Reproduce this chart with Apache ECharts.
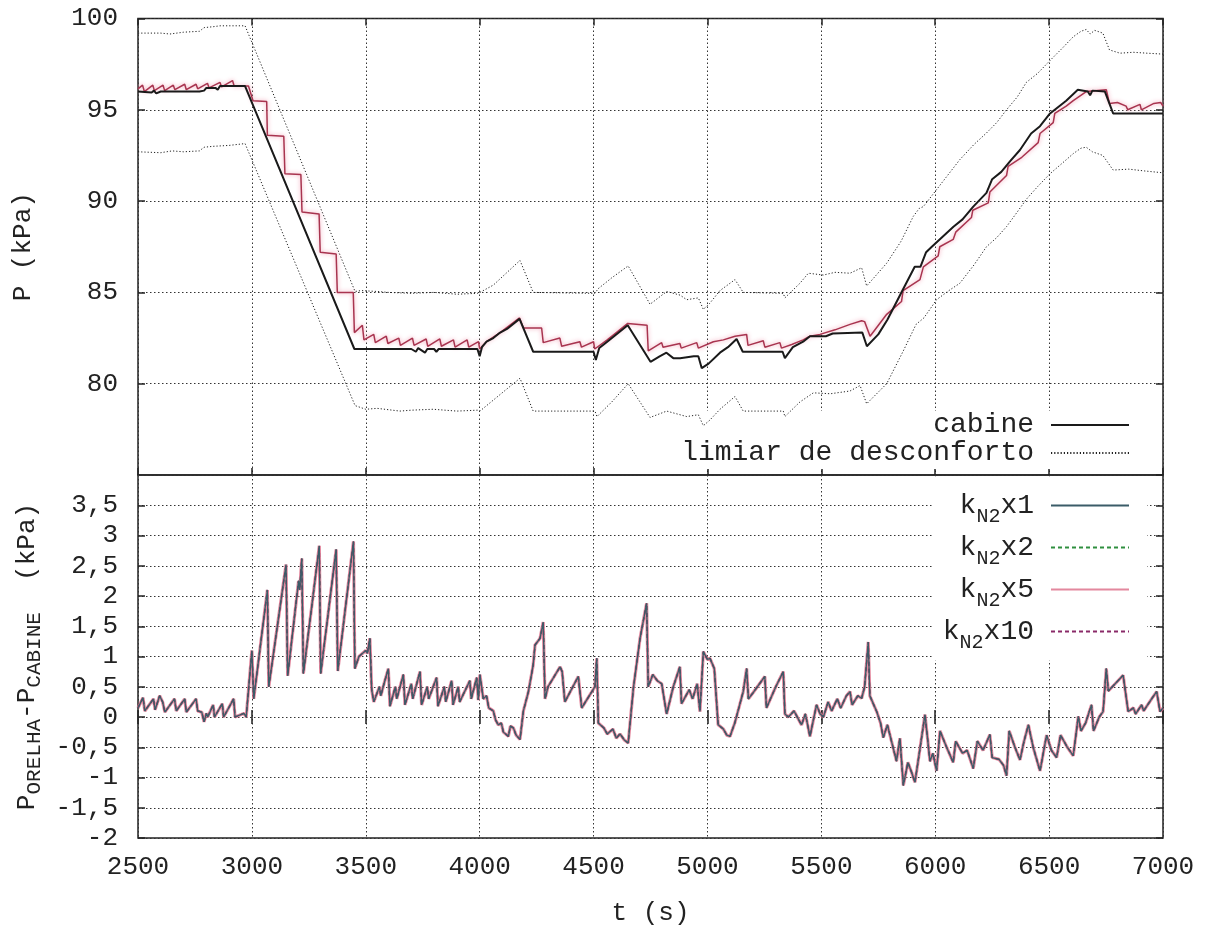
<!DOCTYPE html>
<html>
<head>
<meta charset="utf-8">
<script src="https://cdn.jsdelivr.net/npm/echarts@6/dist/echarts.min.js"></script>
<style>
  html, body { margin: 0; padding: 0; background: #fff; }
  #chart { width: 1208px; height: 927px; }
</style>
</head>
<body>
<div id="chart"></div>
<script>
// eixo de tempo (s)
var tMin = 2500, tMax = 7000, tStep = 500;

// painel superior: pressao (kPa)
var cabine = [
  [2500,96.0],[2560,95.95],[2570,96.05],[2580,95.9],[2600,96.0],[2770,96.0],[2790,96.05],[2800,96.2],
  [2840,96.2],[2850,96.1],[2860,96.3],[2970,96.3],
  [3450,81.9],[3700,81.9],[3720,81.75],[3730,81.95],[3760,81.7],[3770,81.9],[3800,81.9],[3810,81.75],
  [3820,81.9],[3990,81.9],[4000,81.5],[4010,82.0],[4030,82.3],[4060,82.5],[4090,82.8],[4120,83.0],
  [4175,83.55],[4235,81.75],[4500,81.75],[4510,81.3],[4525,81.95],[4560,82.3],[4590,82.6],[4650,83.2],
  [4750,81.2],[4790,81.5],[4820,81.7],[4850,81.4],[4880,81.4],[4940,81.5],[4960,81.5],[4975,80.85],
  [5005,81.1],[5055,81.7],[5090,82.0],[5128,82.45],[5155,81.75],[5330,81.75],[5340,81.4],[5375,82.0],
  [5420,82.3],[5450,82.6],[5520,82.6],[5550,82.75],[5680,82.8],[5700,82.05],[5750,82.7],[5790,83.5],
  [5860,85.2],[5910,86.4],[5935,86.4],[5960,87.2],[5985,87.5],[6080,88.6],[6120,89.0],[6167,89.7],
  [6225,90.45],[6250,91.2],[6290,91.6],[6330,92.2],[6372,92.8],[6421,93.7],[6460,94.1],[6504,94.8],
  [6575,95.5],[6626,96.1],[6670,96.0],[6680,95.8],[6690,96.05],[6745,96.0],[6781,94.8],[7000,94.8]
];

var orelha = [
  [2500,96.15],[2520,96.35],[2528,96.0],[2565,96.35],[2572,96.05],[2610,96.35],[2617,96.05],[2655,96.35],
  [2662,96.1],[2705,96.4],[2712,96.1],[2755,96.4],[2762,96.15],[2805,96.45],[2812,96.2],[2860,96.5],
  [2867,96.25],[2915,96.6],[2922,96.3],[2985,96.3],[3005,95.5],[3065,95.45],[3068,93.6],[3140,93.55],
  [3145,91.5],[3215,91.45],[3220,89.4],[3295,89.3],[3300,87.2],[3370,87.1],[3375,85.0],[3445,85.0],
  [3450,82.8],[3485,83.2],[3492,82.4],[3535,82.7],[3542,82.25],[3590,82.6],[3597,82.2],[3645,82.5],
  [3652,82.1],[3705,82.5],[3712,82.1],[3765,82.45],[3772,82.05],[3825,82.45],[3832,82.05],[3885,82.4],
  [3892,82.0],[3945,82.4],[3952,82.0],[3995,82.3],[4000,81.9],[4030,82.3],[4090,82.8],[4175,83.6],
  [4192,83.05],[4272,83.05],[4279,82.25],[4352,82.5],[4360,82.05],[4440,82.3],[4447,82.0],[4500,82.3],
  [4505,81.9],[4560,82.4],[4600,82.8],[4650,83.3],[4735,83.2],[4740,81.8],[4799,82.25],[4805,82.0],
  [4879,82.2],[4885,81.95],[4953,82.25],[4960,81.95],[5026,82.3],[5070,82.4],[5121,82.6],[5172,82.7],
  [5178,82.1],[5245,82.35],[5252,82.0],[5318,82.25],[5325,81.95],[5370,82.15],[5420,82.4],[5450,82.6],
  [5494,82.7],[5560,82.95],[5626,83.25],[5677,83.45],[5690,83.4],[5714,82.6],[5787,83.8],[5852,84.5],
  [5859,85.1],[5933,85.7],[5948,86.4],[6013,87.0],[6020,87.5],[6079,87.9],[6090,88.3],[6159,89.1],
  [6165,89.5],[6233,89.9],[6240,90.5],[6313,91.4],[6320,91.9],[6380,92.4],[6452,93.2],[6460,93.7],
  [6518,94.3],[6525,94.8],[6575,95.2],[6606,95.5],[6663,96.0],[6751,96.1],[6765,95.35],[6800,95.4],
  [6838,95.2],[6845,95.0],[6899,95.3],[6905,95.0],[6960,95.35],[6990,95.4],[7000,95.2]
];

var limiarSup = [
  [2500,99.2],[2600,99.2],[2640,99.15],[2700,99.25],[2770,99.3],[2790,99.5],[2830,99.55],[2860,99.6],
  [2970,99.6],[3453,85.05],[3480,85.1],[3550,85.05],[3600,85.0],[3700,84.95],[3800,85.0],[3900,84.9],
  [3990,84.95],[4001,85.0],[4060,85.4],[4177,86.75],[4235,85.0],[4506,84.95],[4520,85.2],[4580,85.8],
  [4652,86.45],[4748,84.35],[4821,85.05],[4880,84.85],[4909,84.6],[4960,84.7],[4982,84.07],[5010,84.4],
  [5055,85.1],[5121,85.7],[5157,85.0],[5333,84.95],[5340,84.7],[5406,85.5],[5443,86.05],[5509,85.95],
  [5560,86.1],[5626,86.05],[5677,86.35],[5699,85.35],[5787,86.6],[5850,87.8],[5904,89.17],[5930,89.6],
  [5948,89.7],[6006,90.63],[6060,91.5],[6108,92.27],[6170,93.1],[6225,93.73],[6270,94.3],[6313,95.0],
  [6360,95.7],[6400,96.5],[6450,97.0],[6504,97.7],[6560,98.4],[6606,99.0],[6640,99.3],[6663,99.4],
  [6680,99.15],[6700,99.35],[6736,99.2],[6765,98.28],[6811,98.1],[6870,98.15],[6930,98.1],[7000,98.05]
];

var limiarInf = [
  [2500,92.7],[2600,92.65],[2650,92.75],[2700,92.7],[2770,92.75],[2790,92.95],[2830,93.0],[2900,93.05],
  [2970,93.15],[3453,78.8],[3500,78.6],[3550,78.65],[3650,78.5],[3700,78.55],[3796,78.6],[3900,78.5],
  [3990,78.55],[4001,78.5],[4050,79.0],[4177,80.3],[4235,78.5],[4506,78.5],[4515,78.2],[4580,79.0],
  [4652,80.0],[4748,78.15],[4821,78.5],[4909,78.2],[4960,78.3],[4982,77.7],[5010,78.0],[5055,78.6],
  [5121,79.3],[5157,78.5],[5333,78.5],[5340,78.2],[5406,79.0],[5465,79.5],[5540,79.45],[5626,79.6],
  [5670,79.9],[5699,78.9],[5787,80.0],[5860,81.8],[5916,83.25],[5950,83.6],[6006,84.6],[6060,85.1],
  [6108,85.5],[6170,86.5],[6225,87.5],[6270,88.0],[6313,88.6],[6360,89.4],[6400,90.1],[6450,90.8],
  [6504,91.5],[6560,92.1],[6606,92.6],[6640,92.9],[6663,92.95],[6690,92.7],[6736,92.5],[6781,91.7],
  [6850,91.75],[6920,91.65],[7000,91.55]
];

// painel inferior: P_orelha - P_cabine (kPa)
var difOrelha = [
  [2500,0.15],[2522,0.32],[2530,0.1],[2568,0.3],[2575,0.12],[2595,0.35],[2608,0.25],[2618,0.08],
  [2660,0.3],[2668,0.1],[2705,0.3],[2712,0.08],[2755,0.3],[2762,0.1],[2780,0.08],[2790,-0.08],
  [2800,0.06],[2806,0.0],[2830,0.2],[2836,0.0],[2870,0.22],[2876,0.0],[2920,0.3],[2926,0.0],
  [2965,0.06],[2975,0.0],[3000,1.1],[3008,0.3],[3068,2.1],[3074,0.5],[3150,2.52],[3157,0.68],
  [3205,2.25],[3210,2.1],[3219,2.62],[3226,0.72],[3296,2.83],[3302,0.72],[3370,2.77],[3377,0.76],
  [3446,2.9],[3452,0.8],[3470,1.0],[3500,1.1],[3507,1.05],[3518,1.3],[3526,0.45],[3535,0.25],
  [3560,0.5],[3566,0.35],[3580,0.55],[3599,0.8],[3606,0.18],[3630,0.5],[3636,0.3],[3665,0.7],
  [3672,0.2],[3700,0.55],[3706,0.3],[3738,0.75],[3745,0.2],[3770,0.5],[3776,0.3],[3811,0.65],
  [3817,0.18],[3845,0.5],[3851,0.25],[3877,0.6],[3883,0.2],[3906,0.5],[3912,0.25],[3957,0.6],
  [3963,0.3],[3987,0.65],[3994,0.28],[4001,0.7],[4016,0.3],[4030,0.35],[4040,0.15],[4060,0.1],
  [4070,-0.05],[4082,-0.13],[4095,-0.1],[4104,-0.25],[4126,-0.32],[4135,-0.15],[4148,-0.18],[4160,-0.3],
  [4177,-0.37],[4192,0.1],[4214,0.42],[4235,0.86],[4243,1.19],[4265,1.3],[4279,1.57],[4287,0.3],
  [4300,0.5],[4353,0.83],[4362,0.75],[4374,0.25],[4433,0.67],[4448,0.15],[4506,0.5],[4514,0.97],
  [4521,-0.1],[4545,-0.18],[4560,-0.28],[4585,-0.2],[4600,-0.35],[4616,-0.28],[4635,-0.38],[4652,-0.43],
  [4675,0.48],[4704,1.3],[4733,1.88],[4740,0.5],[4760,0.7],[4780,0.6],[4799,0.55],[4821,0.05],
  [4850,0.5],[4879,0.83],[4886,0.22],[4920,0.45],[4935,0.3],[4955,0.55],[4967,0.09],[4982,1.08],
  [5000,0.95],[5011,0.97],[5030,0.8],[5047,-0.13],[5070,-0.2],[5085,-0.3],[5099,-0.32],[5120,-0.1],
  [5157,0.42],[5172,0.8],[5180,0.3],[5200,0.4],[5252,0.67],[5259,0.15],[5300,0.5],[5333,0.75],
  [5340,0.05],[5355,0.0],[5380,0.1],[5413,-0.13],[5430,0.05],[5450,-0.32],[5479,0.2],[5495,0.05],
  [5509,0.0],[5530,0.25],[5545,0.1],[5570,0.3],[5585,0.15],[5610,0.35],[5626,0.42],[5635,0.2],
  [5660,0.35],[5677,0.31],[5690,0.5],[5706,1.24],[5713,0.35],[5743,0.09],[5760,-0.1],[5772,-0.34],
  [5790,-0.13],[5830,-0.73],[5845,-0.35],[5860,-1.13],[5880,-0.75],[5895,-0.9],[5911,-1.08],[5930,-0.6],
  [5955,0.04],[5977,-0.73],[5990,-0.6],[6006,-0.89],[6021,-0.23],[6050,-0.5],[6079,-0.75],[6090,-0.4],
  [6120,-0.6],[6140,-0.55],[6167,-0.85],[6185,-0.4],[6210,-0.55],[6240,-0.29],[6250,-0.67],[6280,-0.7],
  [6300,-0.8],[6313,-0.97],[6325,-0.23],[6350,-0.5],[6372,-0.71],[6390,-0.4],[6409,-0.13],[6430,-0.5],
  [6460,-0.89],[6489,-0.3],[6510,-0.55],[6533,-0.67],[6550,-0.3],[6580,-0.5],[6606,-0.64],[6628,0.01],
  [6640,-0.23],[6660,-0.1],[6686,0.2],[6695,-0.23],[6720,0.0],[6737,0.09],[6751,0.8],[6760,0.43],
  [6790,0.55],[6825,0.69],[6847,0.09],[6870,0.15],[6880,0.05],[6906,0.2],[6915,0.1],[6950,0.3],
  [6972,0.42],[6987,0.09],[7000,0.15]
];

var nomesK = ['kN2x1', 'kN2x2', 'kN2x5', 'kN2x10'];
var rotulosK = {
  'kN2x1': '{m|k}{s|N2}{m|x1}',
  'kN2x2': '{m|k}{s|N2}{m|x2}',
  'kN2x5': '{m|k}{s|N2}{m|x5}',
  'kN2x10': '{m|k}{s|N2}{m|x10}'
};

var fonte = 'Liberation Mono';
var corTexto = '#222';
var grade = { show: true, lineStyle: { color: '#333', width: 1, type: [1.5, 2.5] } };
var tique = { show: true, inside: true, length: 7, lineStyle: { color: '#222', width: 1.5 } };
var virgula = function (v) { return String(v).replace('.', ','); };

var chart = echarts.init(document.getElementById('chart'));
chart.setOption({
  backgroundColor: '#fff',
  animation: false,
  grid: [
    { left: 138, right: 45, top: 18.5, height: 456.5, show: true, borderColor: '#222', borderWidth: 1.5 },
    { left: 138, right: 45, top: 475, height: 366, show: true, borderColor: '#222', borderWidth: 1.5 }
  ],
  legend: [
    {
      data: ['cabine', 'limiar de desconforto'],
      orient: 'vertical', align: 'right', right: 61, top: 411, z: 1,
      padding: [0, 17, 2, 10], itemGap: 0, itemWidth: 78, itemHeight: 14,
      backgroundColor: '#fff', selectedMode: false,
      itemStyle: { opacity: 0 },
      textStyle: { fontFamily: fonte, fontSize: 28, color: corTexto, lineHeight: 28, padding: [0, 12, 0, 0] }
    },
    {
      data: nomesK,
      orient: 'vertical', align: 'right', right: 61, top: 476.5, z: 1,
      padding: [8, 17, 8, 10], itemGap: 0, itemWidth: 78, itemHeight: 14,
      backgroundColor: '#fff', selectedMode: false,
      itemStyle: { opacity: 0 },
      formatter: function (n) { return rotulosK[n]; },
      textStyle: {
        fontFamily: fonte, color: corTexto, lineHeight: 29, padding: [0, 12, 0, 0],
        rich: {
          m: { fontFamily: fonte, fontSize: 28, color: corTexto, lineHeight: 29 },
          s: { fontFamily: fonte, fontSize: 20, color: corTexto, lineHeight: 29, padding: [22, 0, 0, 0] }
        }
      }
    }
  ],
  xAxis: [
    { gridIndex: 0, type: 'value', min: tMin, max: tMax, interval: tStep, position: 'bottom',
      axisLine: { show: false }, axisTick: tique, axisLabel: { show: false }, splitLine: grade },
    { gridIndex: 0, type: 'value', min: tMin, max: tMax, interval: tStep, position: 'top',
      axisLine: { show: false }, axisTick: tique, axisLabel: { show: false }, splitLine: { show: false } },
    { gridIndex: 1, type: 'value', min: tMin, max: tMax, interval: tStep, position: 'bottom',
      axisLine: { show: false }, axisTick: tique, splitLine: grade,
      axisLabel: { fontFamily: fonte, fontSize: 26, color: corTexto, margin: 16,
        formatter: function (v) { return String(v); } },
      name: 't (s)', nameLocation: 'middle', nameGap: 62,
      nameTextStyle: { fontFamily: fonte, fontSize: 26, color: corTexto } },
    { gridIndex: 1, type: 'value', min: tMin, max: tMax, interval: tStep, position: 'top',
      axisLine: { show: false }, axisTick: tique, axisLabel: { show: false }, splitLine: { show: false } }
  ],
  yAxis: [
    { gridIndex: 0, type: 'value', min: 75, max: 100, interval: 5, position: 'left',
      axisLine: { show: false }, axisTick: tique, splitLine: grade,
      axisLabel: { fontFamily: fonte, fontSize: 26, color: corTexto, margin: 20, showMinLabel: false },
      name: 'P (kPa)', nameLocation: 'middle', nameGap: 102, nameRotate: 90,
      nameTextStyle: { fontFamily: fonte, fontSize: 26, color: corTexto } },
    { gridIndex: 0, type: 'value', min: 75, max: 100, interval: 5, position: 'right',
      axisLine: { show: false }, axisTick: tique, axisLabel: { show: false }, splitLine: { show: false } },
    { gridIndex: 1, type: 'value', min: -2, max: 4, interval: 0.5, position: 'left',
      axisLine: { show: false }, axisTick: tique, splitLine: grade,
      axisLabel: { fontFamily: fonte, fontSize: 26, color: corTexto, margin: 20, showMaxLabel: false, formatter: virgula },
      name: '{m|P}{s|ORELHA}{m|-P}{s|CABINE}{m|  (kPa)}', nameLocation: 'middle', nameGap: 96, nameRotate: 90,
      nameTextStyle: {
        fontFamily: fonte, color: corTexto,
        rich: {
          m: { fontFamily: fonte, fontSize: 26, color: corTexto, lineHeight: 30 },
          s: { fontFamily: fonte, fontSize: 21, color: corTexto, lineHeight: 30, padding: [15, 0, 0, 0] }
        }
      } },
    { gridIndex: 1, type: 'value', min: -2, max: 4, interval: 0.5, position: 'right',
      axisLine: { show: false }, axisTick: tique, axisLabel: { show: false }, splitLine: { show: false } }
  ],
  series: [
    { name: 'limiar de desconforto', type: 'line', xAxisIndex: 0, yAxisIndex: 0, data: limiarSup,
      symbol: 'none', z: 3, lineStyle: { color: '#222', width: 1, type: [1.2, 2] } },
    { name: 'limiar de desconforto', type: 'line', xAxisIndex: 0, yAxisIndex: 0, data: limiarInf,
      symbol: 'none', z: 3, lineStyle: { color: '#222', width: 1, type: [1.2, 2] } },
    { name: 'orelha', type: 'line', xAxisIndex: 0, yAxisIndex: 0, data: orelha,
      symbol: 'none', z: 4,
      lineStyle: { color: '#a8344f', width: 1.5, shadowColor: 'rgba(240,140,165,0.9)', shadowBlur: 4 } },
    { name: 'cabine', type: 'line', xAxisIndex: 0, yAxisIndex: 0, data: cabine,
      symbol: 'none', z: 5, lineStyle: { color: '#1a1a1a', width: 2 } },

    { name: 'kN2x1', type: 'line', xAxisIndex: 2, yAxisIndex: 2, data: difOrelha,
      symbol: 'none', z: 6, lineStyle: { color: '#3b5c68', width: 1.3 } },
    { name: 'kN2x2', type: 'line', xAxisIndex: 2, yAxisIndex: 2, data: difOrelha,
      symbol: 'none', z: 3, lineStyle: { color: '#2f8f3f', width: 1.2, type: [4, 3] } },
    { name: 'kN2x5', type: 'line', xAxisIndex: 2, yAxisIndex: 2, data: difOrelha,
      symbol: 'none', z: 2, lineStyle: { color: '#dc6a86', width: 3.2, opacity: 0.8 } },
    { name: 'kN2x10', type: 'line', xAxisIndex: 2, yAxisIndex: 2, data: difOrelha,
      symbol: 'none', z: 4, lineStyle: { color: '#8a2a68', width: 1.4, type: [4, 3] } }
  ]
});
</script>
</body>
</html>
